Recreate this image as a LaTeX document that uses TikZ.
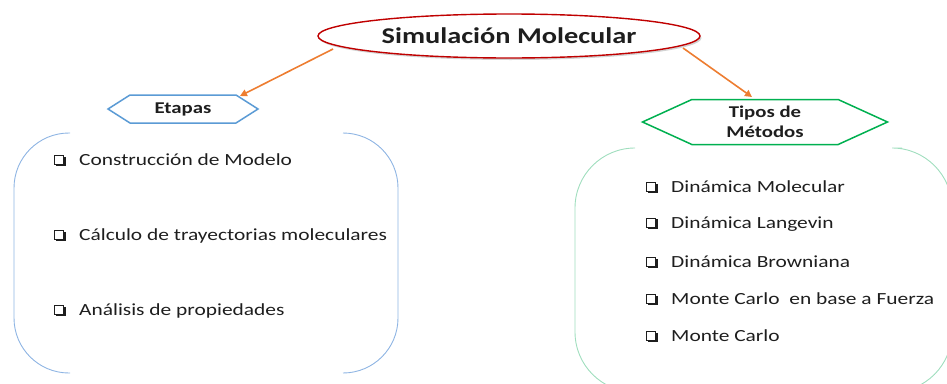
\documentclass[tikz,border=0pt]{standalone}
\usepackage{fontspec}
\setmainfont{Carlito}[FakeStretch=1.26]
\usetikzlibrary{shapes.geometric,shapes.symbols,shadows,arrows.meta}
\definecolor{titred}{RGB}{192,0,0}
\definecolor{hexblue}{RGB}{91,155,213}
\definecolor{hexgreen}{RGB}{0,176,80}
\definecolor{brkblue}{RGB}{142,180,227}
\definecolor{brkgreen}{RGB}{160,222,190}
\definecolor{arrorange}{RGB}{237,125,49}
\definecolor{txt}{RGB}{30,30,30}
\newcommand{\cbx}{\makebox[25pt][l]{\tikz[baseline=0pt,x=1pt,y=1pt]{\draw[line width=0.9pt] (0,1.2) rectangle (9.2,10.4); \draw[line width=1.7pt] (1.4,0.3) -- (10.1,0.3) -- (10.1,9);}}}
\tikzset{
  titlenode/.style={ellipse, draw=titred, line width=1.4pt, fill=white, minimum width=382pt, minimum height=44pt, inner sep=0pt, text=txt, font=\bfseries\fontsize{22.5}{24}\selectfont, drop shadow={opacity=0.35, shadow xshift=1.5pt, shadow yshift=-2pt}},
  hexnode/.style={signal, signal to=east and west, line width=1.5pt, fill=white, inner sep=0pt, text=txt, align=center, font=\bfseries\fontsize{16.5}{20}\selectfont},
  item/.style={anchor=west, inner sep=0pt, text=txt, font=\fontsize{17}{19}\selectfont},
  arr/.style={draw=arrorange, line width=1.6pt, -{Triangle[length=7pt,width=7pt]}},
  brk/.style={line width=0.9pt, rounded corners=55pt}
}
\begin{document}
\begin{tikzpicture}[x=1pt,y=-1pt]
\useasboundingbox (0,0) rectangle (947,383);
% title
\node[titlenode] (sim) at (509,36) {Simulación Molecular};
% hexagons
\node[hexnode, draw=hexblue, minimum width=150pt, minimum height=28pt, signal pointer angle=65] (et) at (183,109) {Etapas};
\node[hexnode, draw=hexgreen, minimum width=245pt, minimum height=45pt, signal pointer angle=49] (tm) at (765,122) {Tipos de\\Métodos};
% arrows
\coordinate (a1s) at (333,49);
\coordinate (a2s) at (683,48);
\coordinate (a1e) at (240,96);
\coordinate (a2e) at (752,97);
\draw[arr] (a1s) -- (a1e);
\draw[arr] (a2s) -- (a2e);
% left brackets
\draw[brk, draw=brkblue] (70,133) -- (14,133) -- (14,373) -- (70,373);
\draw[brk, draw=brkblue] (343,133) -- (398,133) -- (398,373) -- (343,373);
% right brackets
\draw[brk, draw=brkgreen, rounded corners=60pt] (630,148) -- (575,148) -- (575,392) -- (630,392);
\draw[brk, draw=brkgreen, rounded corners=60pt] (902,148) -- (952,148) -- (952,392) -- (902,392);
% left items
\node[item] (l1) at (54,160) {\cbx Construcción de Modelo};
\node[item] (l2) at (54,236) {\cbx Cálculo de trayectorias moleculares};
\node[item] (l3) at (54,311) {\cbx Análisis de propiedades};
% right items
\node[item] (r1) at (646,187) {\cbx Dinámica Molecular};
\node[item] (r2) at (646,224) {\cbx Dinámica Langevin};
\node[item] (r3) at (646,262) {\cbx Dinámica Browniana};
\node[item] (r4) at (646,299) {\cbx Monte Carlo\ \ en base a Fuerza};
\node[item] (r5) at (646,336) {\cbx Monte Carlo};
\end{tikzpicture}
\end{document}
